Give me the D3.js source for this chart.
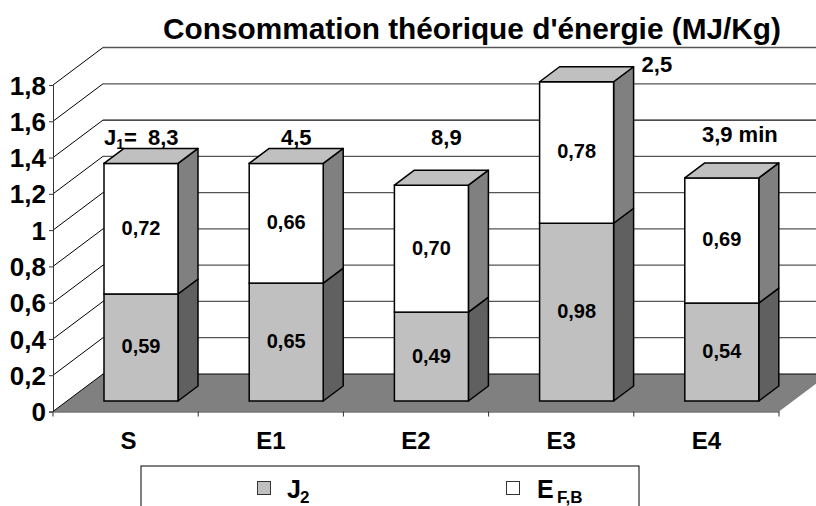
<!DOCTYPE html>
<html><head><meta charset="utf-8">
<script src="https://cdnjs.cloudflare.com/ajax/libs/d3/7.8.5/d3.min.js"></script>
<style>html,body{margin:0;padding:0;background:#fff;overflow:hidden}svg{display:block;font-family:"Liberation Sans",Arial,sans-serif;font-weight:bold;fill:#000}</style>
</head><body><svg id="c" width="816" height="506"></svg>
<script>
const categories = ["S","E1","E2","E3","E4"];
const j2Values = [0.59,0.65,0.49,0.98,0.54];
const efbValues = [0.72,0.66,0.70,0.78,0.69];
const j1Labels = ["8,3","4,5","8,9","2,5","3,9 min"];
const yTicks = [0,0.2,0.4,0.6,0.8,1,1.2,1.4,1.6,1.8];
const titleText = "Consommation théorique d'énergie (MJ/Kg)";

const svg = d3.select("#c");
const comma = v => String(v).replace(".",",");
const fixed = v => v.toFixed(2).replace(".",",");
const x = d3.scaleBand().domain(categories).range([53,779]);
const y = d3.scaleLinear().domain([0,1.8]).range([411.5,85]);
const wallDx = 50, wallDy = -37.5, barDx = 20, barDy = -15, barW = 74, barInset = 51, barLift = 10.5;
const py = v => y(v) - barLift;
const W = 816;

// floor
svg.append("path").attr("d",`M${x.range()[0]},${y(0)}L${x.range()[0]+wallDx},${y(0)+wallDy}L${x.range()[1]+wallDx},${y(0)+wallDy}L${x.range()[1]},${y(0)}Z`)
  .attr("fill","#808080");
// walls grid
yTicks.forEach(t=>{
  if(t===0) return;
  svg.append("path").attr("fill","none").attr("stroke","#000").attr("stroke-width",1)
    .attr("d",`M53,${y(t)}L${53+wallDx},${y(t)+wallDy}`);
  svg.append("line").attr("x1",53+wallDx).attr("x2",W+20).attr("y1",y(t)+wallDy).attr("y2",y(t)+wallDy)
    .attr("stroke",(t===1.4)?"#111":"#555").attr("stroke-width",1.3);
});
svg.append("path").attr("fill","none").attr("stroke","#000").attr("d",`M53,${y(0)}L${53+wallDx},${y(0)+wallDy}L${W+20},${y(0)+wallDy}`).attr("stroke-width",1);

// axes
const axL = d3.axisLeft(y).tickValues(yTicks).tickFormat(comma).tickSize(4).tickPadding(3);
const gL = svg.append("g").attr("transform","translate(53,0)").call(axL);
gL.selectAll("path,line").attr("stroke","#333");
gL.selectAll("text").attr("font-size",26).attr("font-family","Liberation Sans").attr("font-weight","bold").attr("fill","#000").attr("dy","0.35em");
const axB = d3.axisBottom(x).tickSize(0).tickPadding(20);
const gB = svg.append("g").attr("transform",`translate(0,${y(0)})`).call(axB);
gB.select("path").attr("stroke","#333");
gB.selectAll("text").attr("font-size",24).attr("font-family","Liberation Sans").attr("font-weight","bold").attr("fill","#000").attr("dx",d=>d==="S"?3:0);
[...x.domain().map(d=>x(d)), x.range()[1]].forEach(v=>svg.append("line").attr("x1",v).attr("x2",v).attr("y1",y(0)).attr("y2",y(0)+5).attr("stroke","#333"));

// bars
const segs = categories.map((c,i)=>({c,i,j:j2Values[i],e:efbValues[i]}));
function box(g,x0,v0,v1,front,side,top){
  const a=py(v1), b=py(v0), r=x0+barW;
  g.append("path").attr("d",`M${r},${b}L${r+barDx},${b+barDy}L${r+barDx},${a+barDy}L${r},${a}Z`).attr("fill",side).attr("stroke","#000").attr("stroke-width",1.5).attr("stroke-linejoin","round");
  g.append("rect").attr("x",x0).attr("y",a).attr("width",barW).attr("height",b-a).attr("fill",front).attr("stroke","#000").attr("stroke-width",1.5);
  if(top) g.append("path").attr("d",`M${x0},${a}L${x0+barDx},${a+barDy}L${r+barDx},${a+barDy}L${r},${a}Z`).attr("fill",top).attr("stroke","#000").attr("stroke-width",1.5).attr("stroke-linejoin","round");
}
const bars = svg.selectAll("g.bar").data(segs).join("g").attr("class","bar");
bars.each(function(d){
  const g=d3.select(this), x0=x(d.c)+barInset;
  box(g,x0,0,d.j,"#c0c0c0","#606060",null);
  box(g,x0,d.j,d.j+d.e,"#fff","#808080","#c0c0c0");
  g.append("text").attr("x",x0+barW/2).attr("y",py(d.j/2)+6).attr("text-anchor","middle").attr("font-size",20).text(fixed(d.j));
  g.append("text").attr("x",x0+barW/2).attr("y",py(d.j+d.e/2)+6).attr("text-anchor","middle").attr("font-size",20).text(fixed(d.e));
});

// J1 labels
const lab = svg.append("g").attr("font-size",22);
const j1 = lab.append("text").attr("x",x("S")+barInset).attr("y",145);
j1.append("tspan").text("J");
j1.append("tspan").attr("dy",4).attr("font-size",14).text("1");
j1.append("tspan").attr("dy",-4).text("=");
lab.append("text").attr("x",x("S")+barInset+44).attr("y",145).text(j1Labels[0]);
lab.append("text").attr("x",x("E1")+barInset+47).attr("y",145).attr("text-anchor","middle").text(j1Labels[1]);
lab.append("text").attr("x",x("E2")+barInset+52).attr("y",145).attr("text-anchor","middle").text(j1Labels[2]);
lab.append("text").attr("x",x("E3")+barInset+102).attr("y",72).attr("text-anchor","start").text(j1Labels[3]);
lab.append("text").attr("x",x("E4")+barInset+55).attr("y",142).attr("text-anchor","middle").text(j1Labels[4]);

// title
svg.append("text").attr("x",472).attr("y",39).attr("text-anchor","middle").attr("font-size",29.8).text(titleText);

// legend
svg.append("rect").attr("x",141).attr("y",466).attr("width",498).attr("height",60).attr("fill","#fff").attr("stroke","#000").attr("stroke-width",1);
svg.append("rect").attr("x",257.5).attr("y",481.5).attr("width",13).attr("height",13).attr("fill","#c0c0c0").attr("stroke","#333");
svg.append("rect").attr("x",506.5).attr("y",481.5).attr("width",13).attr("height",13).attr("fill","#fff").attr("stroke","#333");
svg.append("text").attr("x",287).attr("y",498).attr("font-size",25).text("J");
svg.append("text").attr("x",300).attr("y",503).attr("font-size",17).text("2");
svg.append("text").attr("x",537).attr("y",498).attr("font-size",25).text("E");
svg.append("text").attr("x",557).attr("y",503).attr("font-size",17).text("F,B");
</script></body></html>
